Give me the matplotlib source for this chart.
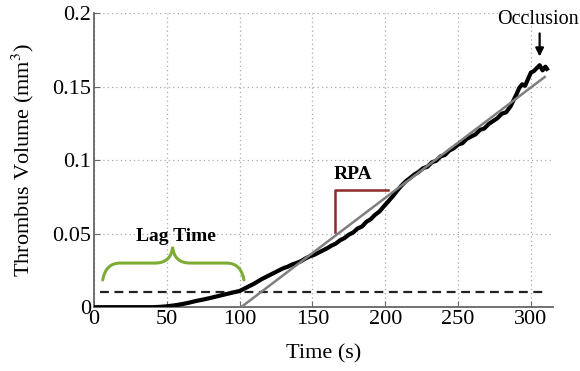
import matplotlib.pyplot as plt
from matplotlib.path import Path
from matplotlib.patches import PathPatch

plt.rcParams['font.family'] = ['Liberation Serif', 'DejaVu Serif']
plt.rcParams['mathtext.fontset'] = 'stix'

time_s = [0, 10, 20, 30, 40, 45, 50, 55, 60, 65, 70, 75, 80, 85, 90, 95, 100,
          105, 110, 115, 120, 125, 130, 133, 136, 139, 142, 145, 148, 151, 154,
          157, 160, 163, 166, 169, 172, 175, 178, 181, 184, 187, 190, 193, 196,
          199, 202, 205, 208, 211, 214, 217, 220, 223, 226, 229, 232, 235, 238,
          241, 244, 247, 250, 253, 256, 259, 262, 265, 268, 271, 274, 277, 280,
          283, 286, 288, 290, 292, 294, 296, 298, 300, 302, 304, 306, 308, 310,
          311]
volume = [0, 0, 0, 0, 0, 0.0002, 0.0006, 0.0012, 0.002, 0.003, 0.0042, 0.0052,
          0.0063, 0.0075, 0.0087, 0.0099, 0.011, 0.0135, 0.016, 0.019, 0.0215,
          0.024, 0.0265, 0.0275, 0.029, 0.030, 0.0312, 0.033, 0.0345, 0.0355,
          0.037, 0.0385, 0.040, 0.0418, 0.0432, 0.0455, 0.047, 0.0493, 0.0508,
          0.0535, 0.0548, 0.058, 0.0598, 0.0628, 0.065, 0.0685, 0.0718, 0.0752,
          0.079, 0.0825, 0.0855, 0.0878, 0.0902, 0.092, 0.0945, 0.0955, 0.0985,
          0.0995, 0.1025, 0.1035, 0.1065, 0.108, 0.1105, 0.1115, 0.1145, 0.116,
          0.1175, 0.1205, 0.1215, 0.1245, 0.1265, 0.1285, 0.1315, 0.1325,
          0.1365, 0.1405, 0.1445, 0.149, 0.1515, 0.1505, 0.155, 0.1595, 0.1605,
          0.1625, 0.1645, 0.161, 0.1635, 0.162]

# linear fit (RPA) and lag-time threshold
fit_t = [101, 309.5]
fit_v = [0.0, 0.1565]
thresh_t = [4, 311]
thresh_v = [0.01, 0.01]

fig = plt.figure(figsize=(5.8, 3.71), dpi=100)
ax = fig.add_axes([0.162, 0.172, 0.791, 0.793])

ax.plot(time_s, volume, color='black', lw=3.0, zorder=3)
ax.plot(fit_t, fit_v, color='#7f7f7f', lw=1.8, zorder=4)
ax.plot(thresh_t, thresh_v, color='#222222', lw=1.6, dashes=(4, 2.5), zorder=2)

# lag time brace
x0, x1, xm = 6, 103, 54
yb, yf, yp = 0.0185, 0.030, 0.041
codes = [Path.MOVETO, Path.CURVE3, Path.CURVE3, Path.LINETO,
         Path.CURVE3, Path.CURVE3,
         Path.CURVE3, Path.CURVE3, Path.LINETO,
         Path.CURVE3, Path.CURVE3]
verts = [(x0, yb), (x0 + 2, yf), (x0 + 12, yf), (xm - 12, yf),
         (xm - 1, yf), (xm, yp),
         (xm + 1, yf), (xm + 12, yf), (x1 - 12, yf),
         (x1 - 2, yf), (x1, yb)]
ax.add_patch(PathPatch(Path(verts, codes), fill=False, ec='#7cac34', lw=2.2,
                       capstyle='round', zorder=5))
ax.text(56, 0.048, 'Lag Time', ha='center', va='center', fontsize=14,
        fontweight='bold')

# RPA slope marker
ax.plot([165.5, 165.5, 202], [0.0513, 0.080, 0.080], color='#8b2a2a', lw=1.8,
        zorder=5)
ax.text(177.5, 0.0905, 'RPA', ha='center', va='center', fontsize=14,
        fontweight='bold')

# occlusion
ax.text(305, 0.1955, 'Occlusion', ha='center', va='center', fontsize=14.5)
ax.annotate('', xy=(306, 0.1685), xytext=(306, 0.188),
            arrowprops=dict(arrowstyle='-|>', color='black', lw=1.6,
                            mutation_scale=12))

ax.set_xlim(0, 315)
ax.set_ylim(0, 0.2)
ax.set_xticks([0, 50, 100, 150, 200, 250, 300])
ax.set_yticks([0, 0.05, 0.1, 0.15, 0.2])
ax.set_yticklabels(['0', '0.05', '0.1', '0.15', '0.2'])
ax.grid(True, ls=(0, (1, 2.5)), color='#a8a8a8', lw=0.9)
for s in ['top', 'right']:
    ax.spines[s].set_visible(False)
for s in ['left', 'bottom']:
    ax.spines[s].set_color('#666666')
    ax.spines[s].set_linewidth(1.3)
ax.tick_params(direction='in', length=4, color='#666666', labelsize=16, pad=2)
ax.set_xlabel('Time (s)', fontsize=16, labelpad=11)
ax.set_ylabel('Thrombus Volume (mm$^3$)', fontsize=16, labelpad=12)

fig.savefig('out.png', dpi=100)
